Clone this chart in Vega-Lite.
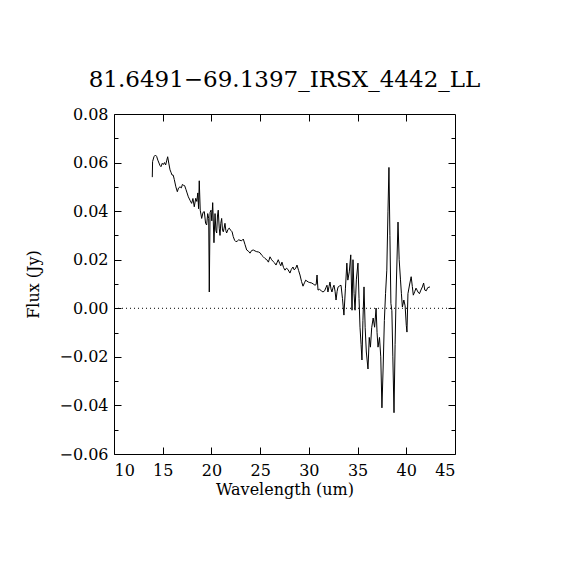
{
  "$schema": "https://vega.github.io/schema/vega-lite/v6.json",
  "width": 341,
  "height": 340,
  "autosize": {"type": "none"},
  "padding": {"left": 114, "top": 114, "right": 115, "bottom": 116},
  "background": "white",
  "title": {
    "text": "81.6491−69.1397_IRSX_4442_LL",
    "font": "DejaVu Serif",
    "fontSize": 23,
    "fontWeight": "normal",
    "color": "black",
    "anchor": "middle",
    "offset": 14
  },
  "config": {
    "view": {"stroke": "black", "strokeWidth": 1},
    "axis": {
      "domain": false,
      "grid": false,
      "tickColor": "black",
      "tickSize": -7,
      "tickWidth": 1,
      "labelFont": "DejaVu Serif",
      "labelFontSize": 16,
      "labelColor": "black",
      "titleFont": "DejaVu Serif",
      "titleFontSize": 16,
      "titleFontWeight": "normal",
      "titleColor": "black"
    }
  },
  "datasets": {
    "spec": [
      {"wl": 13.93, "flux": 0.054}, {"wl": 13.96, "flux": 0.0604}, {"wl": 14.10, "flux": 0.0624}, {"wl": 14.25, "flux": 0.0631},
      {"wl": 14.38, "flux": 0.0625}, {"wl": 14.50, "flux": 0.0610}, {"wl": 14.62, "flux": 0.0598}, {"wl": 14.72, "flux": 0.0588},
      {"wl": 14.82, "flux": 0.0583}, {"wl": 14.95, "flux": 0.0597}, {"wl": 15.06, "flux": 0.0592}, {"wl": 15.18, "flux": 0.0600},
      {"wl": 15.30, "flux": 0.0590}, {"wl": 15.42, "flux": 0.0610}, {"wl": 15.51, "flux": 0.0624}, {"wl": 15.62, "flux": 0.0598},
      {"wl": 15.75, "flux": 0.0570}, {"wl": 15.85, "flux": 0.0560}, {"wl": 15.95, "flux": 0.0549}, {"wl": 16.08, "flux": 0.0548},
      {"wl": 16.19, "flux": 0.0530}, {"wl": 16.35, "flux": 0.0500}, {"wl": 16.50, "flux": 0.0480}, {"wl": 16.62, "flux": 0.0495},
      {"wl": 16.77, "flux": 0.0500}, {"wl": 16.92, "flux": 0.0496}, {"wl": 17.02, "flux": 0.0510}, {"wl": 17.11, "flux": 0.0507},
      {"wl": 17.25, "flux": 0.0505}, {"wl": 17.38, "flux": 0.0490}, {"wl": 17.50, "flux": 0.0475}, {"wl": 17.63, "flux": 0.0459},
      {"wl": 17.80, "flux": 0.0445}, {"wl": 17.97, "flux": 0.0432}, {"wl": 18.10, "flux": 0.0452}, {"wl": 18.24, "flux": 0.0418},
      {"wl": 18.39, "flux": 0.0453}, {"wl": 18.50, "flux": 0.0440}, {"wl": 18.60, "flux": 0.0475}, {"wl": 18.68, "flux": 0.0410},
      {"wl": 18.75, "flux": 0.0525}, {"wl": 18.85, "flux": 0.0404}, {"wl": 19.00, "flux": 0.0370}, {"wl": 19.14, "flux": 0.0395},
      {"wl": 19.27, "flux": 0.0398}, {"wl": 19.40, "flux": 0.0350}, {"wl": 19.51, "flux": 0.0343}, {"wl": 19.62, "flux": 0.0390},
      {"wl": 19.72, "flux": 0.0370}, {"wl": 19.78, "flux": 0.0067}, {"wl": 19.86, "flux": 0.0395}, {"wl": 19.96, "flux": 0.0404},
      {"wl": 20.04, "flux": 0.0360}, {"wl": 20.13, "flux": 0.0435}, {"wl": 20.26, "flux": 0.0270}, {"wl": 20.37, "flux": 0.0390},
      {"wl": 20.46, "flux": 0.0320}, {"wl": 20.54, "flux": 0.0310}, {"wl": 20.62, "flux": 0.0380}, {"wl": 20.70, "flux": 0.0404},
      {"wl": 20.80, "flux": 0.0330}, {"wl": 20.88, "flux": 0.0300}, {"wl": 20.96, "flux": 0.0350}, {"wl": 21.05, "flux": 0.0370},
      {"wl": 21.14, "flux": 0.0320}, {"wl": 21.22, "flux": 0.0315}, {"wl": 21.30, "flux": 0.0330}, {"wl": 21.39, "flux": 0.0350},
      {"wl": 21.48, "flux": 0.0320}, {"wl": 21.56, "flux": 0.0310}, {"wl": 21.70, "flux": 0.0325}, {"wl": 21.83, "flux": 0.0330},
      {"wl": 22.00, "flux": 0.0320}, {"wl": 22.12, "flux": 0.0315}, {"wl": 22.24, "flux": 0.0295}, {"wl": 22.38, "flux": 0.0280},
      {"wl": 22.52, "flux": 0.0274}, {"wl": 22.70, "flux": 0.0278}, {"wl": 22.80, "flux": 0.0282}, {"wl": 22.93, "flux": 0.0280},
      {"wl": 23.10, "flux": 0.0278}, {"wl": 23.27, "flux": 0.0285}, {"wl": 23.45, "flux": 0.0262}, {"wl": 23.62, "flux": 0.0240},
      {"wl": 23.80, "flux": 0.0235}, {"wl": 23.96, "flux": 0.0227}, {"wl": 24.13, "flux": 0.0238}, {"wl": 24.30, "flux": 0.0240},
      {"wl": 24.48, "flux": 0.0236}, {"wl": 24.65, "flux": 0.0233}, {"wl": 24.82, "flux": 0.0232}, {"wl": 25.00, "flux": 0.0228},
      {"wl": 25.17, "flux": 0.0218}, {"wl": 25.33, "flux": 0.0212}, {"wl": 25.50, "flux": 0.0205}, {"wl": 25.68, "flux": 0.0200},
      {"wl": 25.85, "flux": 0.0190}, {"wl": 26.01, "flux": 0.0212}, {"wl": 26.18, "flux": 0.0200}, {"wl": 26.35, "flux": 0.0192},
      {"wl": 26.50, "flux": 0.0186}, {"wl": 26.63, "flux": 0.0178}, {"wl": 26.75, "flux": 0.0190}, {"wl": 26.86, "flux": 0.0200},
      {"wl": 27.00, "flux": 0.0185}, {"wl": 27.12, "flux": 0.0175}, {"wl": 27.24, "flux": 0.0190}, {"wl": 27.40, "flux": 0.0168},
      {"wl": 27.55, "flux": 0.0157}, {"wl": 27.70, "flux": 0.0165}, {"wl": 27.85, "flux": 0.0160}, {"wl": 28.06, "flux": 0.0145},
      {"wl": 28.20, "flux": 0.0160}, {"wl": 28.37, "flux": 0.0170}, {"wl": 28.50, "flux": 0.0158}, {"wl": 28.65, "flux": 0.0165},
      {"wl": 28.78, "flux": 0.0178}, {"wl": 28.95, "flux": 0.0155}, {"wl": 29.09, "flux": 0.0137}, {"wl": 29.25, "flux": 0.0110},
      {"wl": 29.40, "flux": 0.0091}, {"wl": 29.55, "flux": 0.0105}, {"wl": 29.68, "flux": 0.0116}, {"wl": 29.80, "flux": 0.0112},
      {"wl": 29.95, "flux": 0.0108}, {"wl": 30.10, "flux": 0.0106}, {"wl": 30.30, "flux": 0.0104}, {"wl": 30.45, "flux": 0.0100},
      {"wl": 30.63, "flux": 0.0095}, {"wl": 30.75, "flux": 0.0098}, {"wl": 30.84, "flux": 0.0137}, {"wl": 30.94, "flux": 0.0075},
      {"wl": 31.10, "flux": 0.0078}, {"wl": 31.28, "flux": 0.0072}, {"wl": 31.45, "flux": 0.0067}, {"wl": 31.62, "flux": 0.0072},
      {"wl": 31.75, "flux": 0.0085}, {"wl": 31.86, "flux": 0.0095}, {"wl": 31.96, "flux": 0.0067}, {"wl": 32.07, "flux": 0.0090},
      {"wl": 32.17, "flux": 0.0108}, {"wl": 32.27, "flux": 0.0080}, {"wl": 32.37, "flux": 0.0067}, {"wl": 32.48, "flux": 0.0085},
      {"wl": 32.58, "flux": 0.0095}, {"wl": 32.69, "flux": 0.0070}, {"wl": 32.79, "flux": 0.0034}, {"wl": 32.90, "flux": 0.0070},
      {"wl": 32.99, "flux": 0.0087}, {"wl": 33.15, "flux": 0.0092}, {"wl": 33.30, "flux": 0.0095}, {"wl": 33.45, "flux": 0.0040},
      {"wl": 33.60, "flux": -0.0028}, {"wl": 33.75, "flux": 0.0080}, {"wl": 33.90, "flux": 0.0186}, {"wl": 34.00, "flux": 0.0116},
      {"wl": 34.15, "flux": 0.0150}, {"wl": 34.30, "flux": 0.0220}, {"wl": 34.43, "flux": -0.0008}, {"wl": 34.53, "flux": 0.0200},
      {"wl": 34.64, "flux": 0.0060}, {"wl": 34.74, "flux": -0.0008}, {"wl": 34.88, "flux": 0.0120}, {"wl": 35.04, "flux": 0.0186},
      {"wl": 35.15, "flux": 0.0040}, {"wl": 35.25, "flux": -0.0078}, {"wl": 35.36, "flux": -0.0150}, {"wl": 35.45, "flux": -0.0213},
      {"wl": 35.55, "flux": -0.0050}, {"wl": 35.66, "flux": 0.0088}, {"wl": 35.78, "flux": -0.0080}, {"wl": 35.90, "flux": -0.0180},
      {"wl": 36.07, "flux": -0.0250}, {"wl": 36.20, "flux": -0.0120}, {"wl": 36.32, "flux": -0.0160}, {"wl": 36.45, "flux": -0.0080},
      {"wl": 36.60, "flux": -0.0040}, {"wl": 36.75, "flux": -0.0078}, {"wl": 36.90, "flux": 0.0001}, {"wl": 37.00, "flux": -0.0100},
      {"wl": 37.10, "flux": -0.0160}, {"wl": 37.25, "flux": -0.0120}, {"wl": 37.38, "flux": -0.0200}, {"wl": 37.50, "flux": -0.0410},
      {"wl": 37.62, "flux": -0.0250}, {"wl": 37.75, "flux": -0.0050}, {"wl": 37.87, "flux": 0.0060}, {"wl": 38.00, "flux": 0.0157},
      {"wl": 38.12, "flux": 0.0400}, {"wl": 38.22, "flux": 0.0580}, {"wl": 38.32, "flux": 0.0300}, {"wl": 38.42, "flux": 0.0020},
      {"wl": 38.52, "flux": -0.0010}, {"wl": 38.62, "flux": -0.0200}, {"wl": 38.74, "flux": -0.0430}, {"wl": 38.85, "flux": -0.0150},
      {"wl": 38.98, "flux": 0.0100}, {"wl": 39.15, "flux": 0.0355}, {"wl": 39.27, "flux": 0.0200}, {"wl": 39.40, "flux": 0.0120},
      {"wl": 39.50, "flux": 0.0060}, {"wl": 39.60, "flux": 0.0005}, {"wl": 39.75, "flux": 0.0034}, {"wl": 39.88, "flux": 0.0010},
      {"wl": 40.00, "flux": -0.0070}, {"wl": 40.07, "flux": -0.0098}, {"wl": 40.17, "flux": 0.0060}, {"wl": 40.35, "flux": 0.0100},
      {"wl": 40.50, "flux": 0.0130}, {"wl": 40.62, "flux": 0.0090}, {"wl": 40.72, "flux": 0.0054}, {"wl": 40.88, "flux": 0.0070},
      {"wl": 41.00, "flux": 0.0083}, {"wl": 41.10, "flux": 0.0075}, {"wl": 41.20, "flux": 0.0067}, {"wl": 41.35, "flux": 0.0060},
      {"wl": 41.50, "flux": 0.0075}, {"wl": 41.65, "flux": 0.0088}, {"wl": 41.78, "flux": 0.0104}, {"wl": 41.90, "flux": 0.0075},
      {"wl": 42.05, "flux": 0.0072}, {"wl": 42.20, "flux": 0.0085}, {"wl": 42.43, "flux": 0.0088}
    ]
  },
  "resolve": {"axis": {"x": "independent", "y": "independent"}},
  "layer": [
    {
      "data": {"name": "spec"},
      "mark": {"type": "line", "color": "black", "strokeWidth": 1, "interpolate": "linear"},
      "encoding": {
        "x": {
          "field": "wl", "type": "quantitative",
          "scale": {"domain": [10, 45], "nice": false, "zero": false},
          "axis": {"orient": "bottom", "values": [10, 15, 20, 25, 30, 35, 40, 45], "labelPadding": 15, "title": "Wavelength (um)", "titlePadding": 3}
        },
        "y": {
          "field": "flux", "type": "quantitative",
          "scale": {"domain": [-0.06, 0.08], "nice": false, "zero": false},
          "axis": {"orient": "left", "values": [-0.06, -0.04, -0.02, 0, 0.02, 0.04, 0.06, 0.08], "format": ".2f", "labelPadding": 13, "title": "Flux (Jy)", "titlePadding": 17}
        }
      }
    },
    {
      "data": {"name": "spec"},
      "mark": {"type": "point", "opacity": 0},
      "encoding": {
        "x": {
          "field": "wl", "type": "quantitative",
          "axis": {"orient": "top", "values": [15, 20, 25, 30, 35, 40], "labels": false, "title": null}
        },
        "y": {
          "field": "flux", "type": "quantitative",
          "axis": {"orient": "right", "values": [-0.04, -0.02, 0, 0.02, 0.04, 0.06], "labels": false, "title": null}
        }
      }
    },
    {
      "data": {"name": "spec"},
      "mark": {"type": "point", "opacity": 0},
      "encoding": {
        "x": {"field": "wl", "type": "quantitative", "axis": null},
        "y": {
          "field": "flux", "type": "quantitative",
          "axis": {"orient": "left", "values": [-0.05, -0.03, -0.01, 0.01, 0.03, 0.05, 0.07], "labels": false, "tickSize": -4, "title": null}
        }
      }
    },
    {
      "data": {"name": "spec"},
      "mark": {"type": "point", "opacity": 0},
      "encoding": {
        "x": {"field": "wl", "type": "quantitative", "axis": null},
        "y": {
          "field": "flux", "type": "quantitative",
          "axis": {"orient": "right", "values": [-0.05, -0.03, -0.01, 0.01, 0.03, 0.05, 0.07], "labels": false, "tickSize": -4, "title": null}
        }
      }
    },
    {
      "data": {"values": [{"zero": 0}]},
      "mark": {"type": "rule", "color": "black", "strokeWidth": 1, "strokeDash": [1, 3]},
      "encoding": {
        "y": {"field": "zero", "type": "quantitative", "axis": null}
      }
    }
  ]
}
